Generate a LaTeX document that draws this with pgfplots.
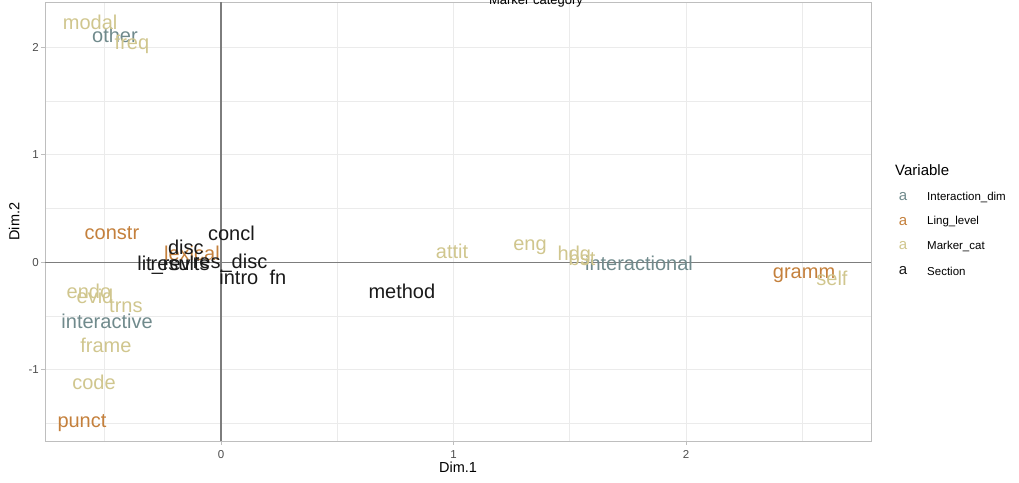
\documentclass[border=0pt]{standalone}
\usepackage{pgfplots}
\pgfplotsset{compat=1.18}
\usepackage{fontspec}
\setmainfont{Liberation Sans}

\definecolor{interdim}{RGB}{112,138,140}
\definecolor{linglevel}{RGB}{196,128,60}
\definecolor{markercat}{RGB}{208,198,142}
\definecolor{sectioncol}{RGB}{26,26,26}
\definecolor{gridgray}{RGB}{235,235,235}
\definecolor{framegray}{RGB}{190,190,190}
\definecolor{zerogray}{RGB}{125,125,125}
\definecolor{ticktext}{RGB}{77,77,77}

\pgfplotsset{
  wordlabels/.style={
    only marks, mark=none,
    point meta=explicit symbolic,
    nodes near coords,
    every node near coord/.append style={
      anchor=center, inner sep=0pt,
      font=\fontsize{20}{24}\selectfont, text=#1},
  },
}

\begin{document}
\begin{tikzpicture}[x=1pt,y=1pt]
\useasboundingbox (-45,-41) rectangle (974,441);
\begin{axis}[
  at={(0,0)}, anchor=south west,
  scale only axis, width=826pt, height=438.5pt,
  xmin=-0.757, xmax=2.796, ymin=-1.665, ymax=2.419,
  xtick={0,1,2}, xticklabels={0,1,2},
  ytick={-1,0,1,2}, yticklabels={-1,0,1,2},
  minor xtick={-0.5,0.5,1.5,2.5},
  minor ytick={-1.5,-0.5,0.5,1.5},
  grid=both,
  major grid style={draw=gridgray, line width=0.9pt},
  minor grid style={draw=gridgray, line width=0.5pt},
  axis line style={draw=framegray, line width=0.9pt},
  tick pos=left, tick align=outside,
  major tick length=3.7pt, minor tick length=0pt,
  tick style={draw=framegray, line width=0.8pt},
  ticklabel style={font=\fontsize{11.5}{13}\selectfont, text=ticktext},
  xticklabel style={yshift=-2pt},
  yticklabel style={xshift=1pt},
  xlabel={Dim.1}, ylabel={Dim.2},
  every axis x label/.style={at={(axis description cs:0.5,0)}, anchor=center,
    yshift=-26pt, font=\fontsize{14.5}{17}\selectfont},
  every axis y label/.style={at={(axis description cs:0,0.5)}, anchor=center,
    xshift=-31pt, rotate=90, font=\fontsize{14.5}{17}\selectfont},
  clip=false,
]
% reference lines through the origin
\addplot[zerogray, line width=1.3pt] coordinates {(-0.757,0) (2.796,0)};
\addplot[zerogray, line width=1.3pt] coordinates {(0,-1.665) (0,2.419)};

% Interaction_dim
\addplot[wordlabels=interdim] coordinates {
  (-0.456,2.112) [other]
  (-0.490,-0.549) [interactive]
  (1.798,-0.010) [interactional]
};
% Ling_level
\addplot[wordlabels=linglevel] coordinates {
  (-0.469,0.270) [constr]
  (-0.125,0.080) [lexical]
  (-0.598,-1.498) [punct]
  (2.508,-0.120) [gramm]
};
% Marker_cat
\addplot[wordlabels=markercat] coordinates {
  (-0.563,2.233) [modal]
  (-0.383,2.028) [freq]
  (0.994,0.100) [attit]
  (1.329,0.140) [eng]
  (1.520,0.065) [hdg]
  (1.553,0.040) [bst]
  (2.628,-0.150) [self]
  (-0.568,-0.270) [endo]
  (-0.542,-0.320) [evid]
  (-0.409,-0.409) [trns]
  (-0.495,-0.772) [frame]
  (-0.546,-1.116) [code]
};
% Section
\addplot[wordlabels=sectioncol] coordinates {
  (0.045,0.270) [concl]
  (-0.151,0.140) [disc]
  (-0.245,-0.030) [lit\_rev]
  (-0.176,-0.010) [results]
  (0.039,-0.010) [res\_disc]
  (0.077,-0.140) [intro]
  (0.245,-0.140) [fn]
  (0.778,-0.270) [method]
};
\end{axis}

% title (its upper part falls outside the page)
\node[anchor=base, inner sep=0pt, font=\fontsize{13}{15}\selectfont] at (491,436.5) {Marker category};

% legend
\node[anchor=west, inner sep=0pt, font=\fontsize{15}{18}\selectfont] at (850,271) {Variable};
\foreach \yy/\col/\lab in {244/interdim/Interaction\_dim, 219/linglevel/Ling\_level, 195/markercat/Marker\_cat, 170/sectioncol/Section} {
  \node[anchor=center, inner sep=0pt, text=\col, font=\fontsize{15}{18}\selectfont] at (858,\yy) {a};
  \node[anchor=west, inner sep=0pt, font=\fontsize{11.5}{14}\selectfont] at (882,\yy) {\lab};
}
\end{tikzpicture}
\end{document}
